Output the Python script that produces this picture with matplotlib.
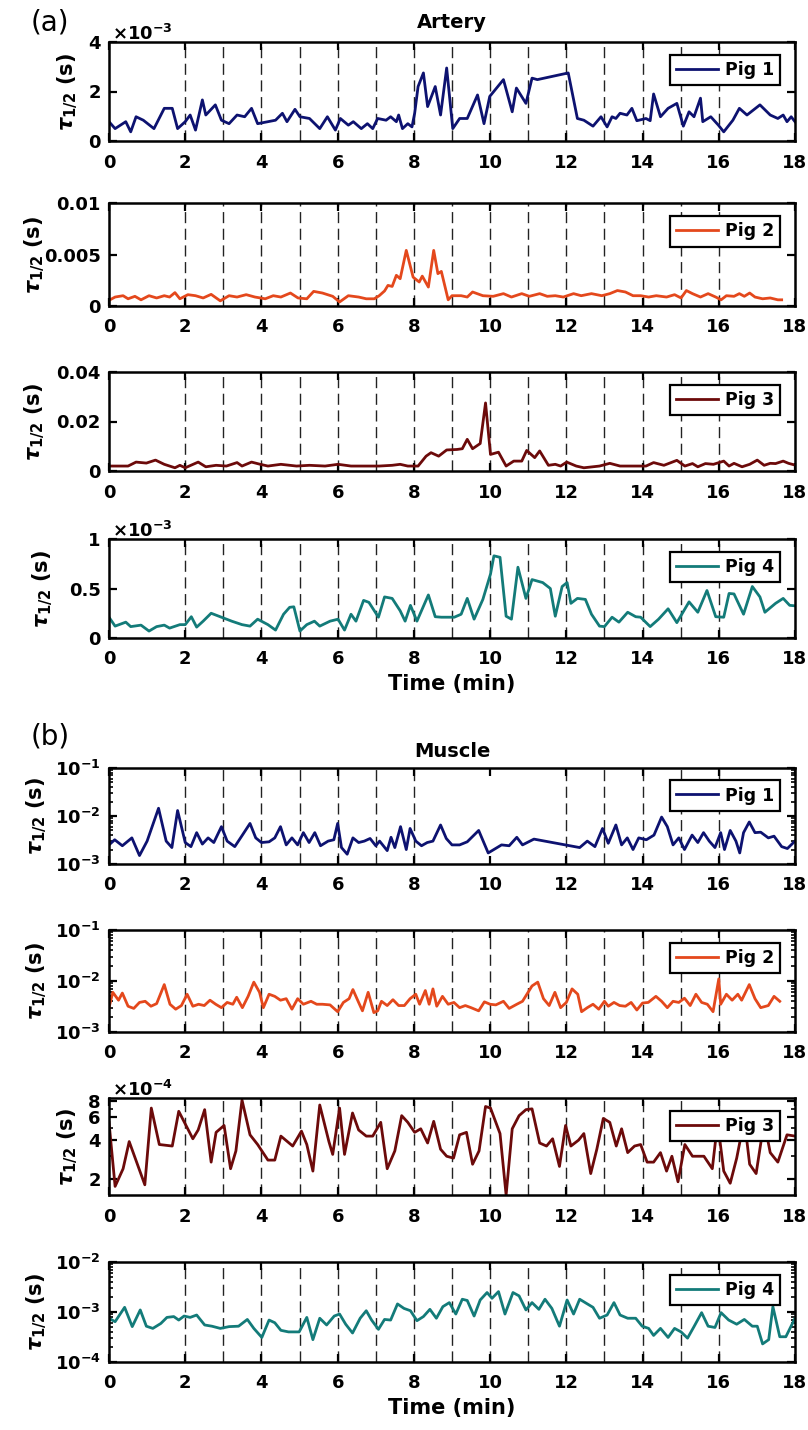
import numpy as np
import matplotlib
matplotlib.use("Agg")
import matplotlib.pyplot as plt
from matplotlib.ticker import LogLocator, NullFormatter

plt.rcParams['font.family'] = ['DejaVu Sans']
plt.rcParams['font.weight'] = 'bold'
plt.rcParams['mathtext.fontset'] = 'dejavusans'

# ---- Artery, Pig 1 ----
a1_t = [0, 0.16, 0.44, 0.57, 0.71, 0.9, 1.18, 1.45, 1.66, 1.8, 2.0, 2.13, 2.27, 2.45, 2.54, 2.79, 2.95,
        3.15, 3.36, 3.56, 3.74, 3.9, 4.17, 4.37, 4.55, 4.67, 4.88, 5.01, 5.26, 5.53, 5.73, 5.94, 6.07,
        6.28, 6.41, 6.62, 6.78, 6.92, 7.05, 7.27, 7.39, 7.54, 7.6, 7.7, 7.84, 7.95, 8.02, 8.11, 8.25,
        8.36, 8.56, 8.7, 8.86, 9.02, 9.2, 9.4, 9.67, 9.84, 9.99, 10.35, 10.58, 10.69, 10.94, 11.1, 11.24,
        12.05, 12.29, 12.46, 12.7, 12.91, 13.07, 13.2, 13.3, 13.41, 13.59, 13.72, 13.85, 14.09, 14.2,
        14.29, 14.47, 14.67, 14.9, 15.07, 15.22, 15.35, 15.52, 15.58, 15.79, 15.99, 16.13, 16.37, 16.54,
        16.74, 17.08, 17.35, 17.55, 17.69, 17.79, 17.9, 18.0]
a1_v = [0.78, 0.5, 0.78, 0.37, 0.98, 0.84, 0.5, 1.32, 1.32, 0.5, 0.78, 1.05, 0.44, 1.66, 1.05, 1.46, 0.84,
        0.7, 1.05, 0.98, 1.32, 0.7, 0.78, 0.84, 1.12, 0.78, 1.28, 0.98, 0.91, 0.5, 0.98, 0.44, 0.91,
        0.64, 0.78, 0.5, 0.7, 0.5, 0.91, 0.84, 0.98, 0.78, 1.05, 0.5, 0.7, 0.57, 1.12, 2.2, 2.75,
        1.39, 2.2, 1.05, 2.95, 0.5, 0.91, 0.91, 1.86, 0.7, 1.8, 2.48, 1.18, 2.14, 1.52, 2.54, 2.48,
        2.75, 0.91, 0.84, 0.6, 0.98, 0.57, 0.98, 0.91, 1.12, 1.05, 1.32, 0.82, 0.91, 0.82,
        1.9, 0.98, 1.32, 1.52, 0.6, 1.18, 0.98, 1.73, 0.78, 0.98, 0.64, 0.37, 0.84, 1.32,
        1.05, 1.46, 1.05, 0.91, 1.05, 0.78, 0.98, 0.78]  # x 1e-3 s

# ---- Artery, Pig 2 ----
a2_t = [0, 0.16, 0.37, 0.5, 0.68, 0.84, 1.05, 1.25, 1.45, 1.59, 1.73, 1.86, 2.07, 2.27, 2.47, 2.68, 2.92,
        3.15, 3.36, 3.6, 3.83, 4.1, 4.31, 4.51, 4.76, 4.96, 5.19, 5.37, 5.6, 5.87, 6.05, 6.28, 6.55,
        6.75, 6.96, 7.09, 7.23, 7.32, 7.43, 7.54, 7.64, 7.8, 7.98, 8.14, 8.22, 8.38, 8.52, 8.63, 8.72,
        8.9, 9.0, 9.24, 9.4, 9.54, 9.81, 10.08, 10.35, 10.56, 10.83, 11.03, 11.3, 11.5, 11.71, 11.92,
        12.19, 12.39, 12.66, 12.93, 13.14, 13.34, 13.55, 13.75, 13.95, 14.16, 14.36, 14.63, 14.84,
        15.01, 15.15, 15.31, 15.52, 15.72, 15.92, 16.06, 16.2, 16.4, 16.54, 16.67, 16.81, 16.95, 17.15,
        17.35, 17.55, 17.65]
a2_v = [0.55, 0.87, 1.0, 0.7, 0.94, 0.6, 1.0, 0.78, 1.0, 0.87, 1.3, 0.7, 1.1, 1.0, 0.78, 1.13, 0.5,
        1.0, 0.87, 1.1, 0.87, 0.7, 1.0, 0.87, 1.26, 0.78, 0.7, 1.42, 1.26, 0.94, 0.39, 1.0, 0.87,
        0.7, 0.7, 1.0, 1.46, 2.0, 1.9, 2.98, 2.65, 5.4, 2.8, 2.33, 2.9, 1.84, 5.4, 3.14, 3.36,
        0.6, 1.0, 1.0, 0.87, 1.36, 1.0, 0.94, 1.2, 0.87, 1.2, 0.94, 1.2, 0.94, 1.0, 0.87,
        1.2, 1.0, 1.2, 1.0, 1.2, 1.5, 1.36, 1.0, 1.0, 0.87, 1.0, 0.87, 1.1,
        0.78, 1.5, 1.2, 0.87, 1.2, 0.87, 0.6, 1.0, 0.94, 1.2, 0.94, 1.26, 0.87, 0.7,
        0.78, 0.6, 0.6]  # x 1e-3 s

# ---- Artery, Pig 3 ----
a3_t = [0, 0.5, 0.71, 0.98, 1.22, 1.45, 1.73, 1.86, 2.0, 2.34, 2.54, 2.81, 3.08, 3.36, 3.49, 3.74, 3.97,
        4.17, 4.51, 4.92, 5.26, 5.67, 6.01, 6.35, 6.68, 7.09, 7.43, 7.64, 7.84, 8.11, 8.32, 8.45, 8.65,
        8.86, 9.13, 9.27, 9.4, 9.54, 9.74, 9.88, 10.01, 10.22, 10.42, 10.62, 10.83, 10.96, 11.17, 11.3,
        11.53, 11.71, 11.85, 12.01, 12.26, 12.46, 12.87, 13.14, 13.41, 13.82, 14.09, 14.29, 14.56, 14.9,
        15.11, 15.31, 15.45, 15.65, 15.86, 16.13, 16.27, 16.4, 16.61, 16.81, 17.01, 17.19, 17.35, 17.49,
        17.69, 17.83, 18.0]
a3_v = [2.0, 2.0, 3.6, 3.2, 4.4, 2.7, 1.3, 2.3, 1.3, 3.6, 1.7, 2.3, 2.0, 3.4, 2.0, 3.6, 2.7,
        2.0, 2.7, 2.0, 2.3, 2.0, 2.7, 2.0, 2.0, 2.0, 2.3, 2.7, 2.0, 2.0, 6.0, 7.4, 6.0,
        8.5, 8.7, 9.0, 12.8, 9.0, 11.1, 27.5, 6.7, 7.6, 2.0, 4.0, 4.0, 8.3, 5.4, 8.1,
        2.3, 2.7, 2.0, 3.6, 2.0, 1.3, 2.0, 3.1, 2.0, 2.0, 2.0, 3.4, 2.3, 4.3,
        2.0, 3.0, 1.7, 3.0, 2.7, 4.0, 2.0, 3.1, 1.7, 2.7, 4.4, 2.3, 3.1, 3.0,
        4.0, 3.1, 2.4]  # x 1e-3 s

# ---- Artery, Pig 4 ----
a4_t = [0, 0.16, 0.44, 0.57, 0.84, 1.05, 1.25, 1.45, 1.59, 1.86, 2.0, 2.16, 2.3, 2.47, 2.68, 2.95, 3.22,
        3.49, 3.7, 3.9, 4.17, 4.37, 4.58, 4.74, 4.85, 5.01, 5.19, 5.39, 5.53, 5.8, 6.01, 6.18, 6.35,
        6.48, 6.68, 6.82, 7.07, 7.23, 7.43, 7.64, 7.77, 7.91, 8.08, 8.38, 8.56, 8.72, 9.06, 9.24, 9.4,
        9.58, 9.81, 10.01, 10.1, 10.26, 10.42, 10.56, 10.73, 10.94, 11.1, 11.38, 11.58, 11.71, 11.89,
        12.02, 12.12, 12.29, 12.5, 12.66, 12.87, 13.0, 13.2, 13.38, 13.61, 13.82, 13.95, 14.2, 14.42,
        14.67, 14.9, 15.22, 15.45, 15.69, 15.92, 16.13, 16.27, 16.4, 16.65, 16.88, 17.08, 17.21, 17.49,
        17.69, 17.86, 18.0]
a4_v = [0.21, 0.12, 0.16, 0.115, 0.13, 0.07, 0.115, 0.13, 0.1, 0.135, 0.135, 0.215, 0.11, 0.17, 0.25, 0.21,
        0.17, 0.135, 0.12, 0.19, 0.135, 0.08, 0.24, 0.31, 0.315, 0.07, 0.135, 0.17, 0.12, 0.17, 0.19, 0.08,
        0.24, 0.17, 0.38, 0.36, 0.21, 0.415, 0.4, 0.275, 0.17, 0.33, 0.17, 0.435, 0.215, 0.21, 0.21, 0.24,
        0.4, 0.19, 0.39, 0.645, 0.83, 0.815, 0.22, 0.19, 0.715, 0.4, 0.59, 0.56, 0.5, 0.22, 0.52,
        0.56, 0.35, 0.4, 0.39, 0.24, 0.12, 0.115, 0.21, 0.16, 0.26, 0.215, 0.21, 0.115, 0.19,
        0.295, 0.155, 0.365, 0.26, 0.48, 0.215, 0.21, 0.45, 0.445, 0.24, 0.52, 0.415, 0.26, 0.35,
        0.4, 0.33, 0.325]  # x 1e-3 s

# ---- Muscle, Pig 1 ----
b1_t = [0, 0.15, 0.35, 0.6, 0.8, 1.0, 1.3, 1.5, 1.65, 1.8, 2.0, 2.15, 2.3, 2.45, 2.6, 2.75, 2.95, 3.1,
        3.3, 3.5, 3.7, 3.85, 4.0, 4.2, 4.35, 4.5, 4.65, 4.8, 4.95, 5.1, 5.25, 5.4, 5.55, 5.75, 5.9, 6.0,
        6.1, 6.25, 6.4, 6.55, 6.7, 6.85, 7.0, 7.1, 7.3, 7.4, 7.5, 7.65, 7.8, 7.9, 8.05, 8.2, 8.35, 8.5,
        8.7, 8.85, 9.0, 9.2, 9.4, 9.7, 9.95, 10.3, 10.5, 10.7, 10.85, 11.15, 12.35, 12.55, 12.75, 12.95,
        13.1, 13.3, 13.45, 13.6, 13.75, 13.9, 14.1, 14.3, 14.5, 14.65, 14.8, 14.95, 15.1, 15.3, 15.45,
        15.6, 15.75, 15.9, 16.05, 16.15, 16.3, 16.45, 16.55, 16.65, 16.8, 16.95, 17.1, 17.3, 17.45,
        17.65, 17.8, 18.0]
b1_v = [2.5, 3.2, 2.4, 3.5, 1.5, 3.0, 14.5, 3.0, 2.2, 13.0, 2.8, 2.3, 4.5, 2.6, 3.5, 2.8, 6.0, 3.0,
        2.3, 4.0, 7.0, 3.5, 2.8, 2.9, 3.5, 6.0, 2.5, 3.5, 2.5, 4.5, 2.8, 4.5, 2.4, 3.0, 3.2, 7.0,
        2.2, 1.6, 3.5, 2.8, 3.0, 3.4, 2.4, 3.0, 1.9, 3.6, 2.2, 6.0, 2.0, 5.5, 3.0, 2.4, 2.8, 3.0,
        6.5, 3.4, 2.5, 2.5, 2.9, 5.0, 1.7, 2.5, 2.4, 3.6, 2.5, 3.3, 2.2, 3.0, 2.3, 5.5,
        2.7, 6.5, 2.5, 3.5, 2.0, 3.5, 3.2, 4.0, 9.5, 6.0, 2.5, 3.5, 2.0, 4.0, 2.8,
        4.5, 3.0, 2.2, 4.5, 2.0, 5.0, 3.0, 1.7, 4.5, 7.5, 4.5, 4.6, 3.5, 3.8,
        2.3, 2.1, 3.0]  # x 1e-3 s

# ---- Muscle, Pig 2 ----
b2_t = [0, 0.1, 0.25, 0.35, 0.5, 0.65, 0.8, 0.95, 1.1, 1.25, 1.45, 1.6, 1.75, 1.9, 2.05, 2.2, 2.35, 2.5,
        2.65, 2.8, 2.95, 3.1, 3.25, 3.35, 3.5, 3.65, 3.8, 3.95, 4.05, 4.2, 4.35, 4.5, 4.65, 4.8, 4.95,
        5.1, 5.3, 5.45, 5.6, 5.8, 6.0, 6.15, 6.3, 6.4, 6.55, 6.65, 6.8, 6.95, 7.05, 7.15, 7.3, 7.45,
        7.6, 7.75, 7.9, 8.05, 8.15, 8.3, 8.4, 8.5, 8.6, 8.75, 8.9, 9.05, 9.2, 9.35, 9.5, 9.7, 9.85,
        10.0, 10.15, 10.35, 10.5, 10.7, 10.85, 11.1, 11.25, 11.4, 11.55, 11.7, 11.85, 12.0, 12.15, 12.3,
        12.4, 12.55, 12.7, 12.85, 13.0, 13.1, 13.25, 13.4, 13.55, 13.7, 13.85, 14.0, 14.15, 14.35, 14.5,
        14.65, 14.8, 14.95, 15.1, 15.25, 15.4, 15.55, 15.7, 15.85, 16.0, 16.05, 16.2, 16.35, 16.5, 16.6,
        16.8, 16.95, 17.1, 17.3, 17.45, 17.6]
b2_v = [3.0, 6.0, 4.2, 5.8, 3.2, 2.9, 3.8, 4.0, 3.2, 3.6, 8.5, 3.5, 2.8, 3.3, 5.5, 3.2, 3.5, 3.3,
        4.2, 3.5, 3.0, 3.8, 3.5, 4.8, 3.0, 5.0, 9.5, 6.0, 3.0, 5.5, 5.0, 4.2, 4.5, 2.8, 4.5,
        3.5, 4.0, 3.5, 3.5, 3.4, 2.5, 3.8, 4.5, 6.8, 3.8, 2.6, 6.0, 2.4, 2.6, 4.0, 3.3, 4.3,
        3.3, 3.3, 4.5, 5.5, 3.5, 6.5, 3.5, 7.0, 3.2, 5.0, 3.5, 3.8, 3.0, 3.3, 3.0, 2.6, 3.9,
        3.5, 3.4, 4.0, 2.9, 3.5, 4.0, 8.0, 9.5, 4.5, 3.3, 6.0, 3.0, 3.8, 7.0, 5.5,
        2.5, 3.0, 3.5, 2.8, 4.0, 3.2, 3.8, 3.3, 3.2, 3.8, 2.7, 3.7, 3.8, 5.0, 4.0,
        3.0, 4.0, 3.8, 4.6, 3.3, 5.5, 3.8, 3.5, 2.5, 11.0, 3.5, 5.5, 4.2, 5.5, 4.2,
        8.5, 4.5, 3.0, 3.3, 5.0, 4.0]  # x 1e-3 s

# ---- Muscle, Pig 3 ----
b3_t = [0, 0.16, 0.37, 0.53, 0.94, 1.11, 1.32, 1.66, 1.83, 2.2, 2.34, 2.51, 2.68, 2.81, 3.02, 3.19, 3.33,
        3.49, 3.7, 3.9, 4.17, 4.35, 4.51, 4.82, 5.05, 5.19, 5.35, 5.53, 5.77, 5.87, 6.05, 6.18, 6.39,
        6.55, 6.75, 6.92, 7.13, 7.3, 7.5, 7.68, 7.84, 8.02, 8.18, 8.36, 8.52, 8.7, 8.86, 9.04, 9.2,
        9.38, 9.54, 9.71, 9.88, 10.01, 10.26, 10.42, 10.58, 10.76, 10.94, 11.1, 11.3, 11.48, 11.64,
        11.82, 11.98, 12.12, 12.32, 12.46, 12.64, 12.8, 12.97, 13.14, 13.31, 13.45, 13.61, 13.79, 13.95,
        14.12, 14.29, 14.47, 14.63, 14.77, 14.93, 15.11, 15.31, 15.61, 15.83, 15.97, 16.13, 16.3, 16.47,
        16.67, 16.81, 16.98, 17.19, 17.35, 17.55, 17.79, 18.0]
b3_v = [5.5, 1.75, 2.4, 3.9, 1.8, 7.1, 3.7, 3.6, 6.7, 4.1, 4.8, 6.9, 2.7, 4.6, 5.2, 2.4, 3.3,
        8.2, 4.4, 3.7, 2.8, 2.8, 4.3, 3.6, 4.7, 3.7, 2.3, 7.5, 3.9, 3.1, 7.1, 3.1, 6.5,
        4.8, 4.3, 4.3, 5.5, 2.4, 3.3, 6.2, 5.5, 4.6, 4.9, 3.8, 5.6, 3.4, 3.0, 2.9, 4.4,
        4.6, 2.6, 3.3, 7.3, 7.1, 4.5, 1.5, 4.9, 6.2, 6.9, 7.0, 3.8, 3.6, 4.1,
        2.5, 5.2, 3.6, 4.0, 4.5, 2.2, 3.4, 5.9, 5.5, 3.6, 4.9, 3.2, 3.6, 3.7,
        2.7, 2.7, 3.2, 2.3, 3.0, 1.9, 3.7, 3.0, 3.0, 2.4, 5.5, 2.3, 1.85, 2.9,
        5.8, 2.6, 2.2, 5.6, 3.2, 2.7, 4.4, 4.3]  # x 1e-4 s

# ---- Muscle, Pig 4 ----
b4_t = [0, 0.16, 0.41, 0.61, 0.82, 0.98, 1.15, 1.36, 1.52, 1.7, 1.83, 1.97, 2.13, 2.3, 2.51, 2.7, 2.92,
        3.15, 3.4, 3.63, 3.8, 4.01, 4.2, 4.35, 4.51, 4.71, 4.99, 5.19, 5.35, 5.53, 5.71, 5.91, 6.05,
        6.21, 6.39, 6.59, 6.75, 6.89, 7.07, 7.23, 7.39, 7.57, 7.74, 7.91, 8.08, 8.25, 8.42, 8.59, 8.76,
        8.93, 9.1, 9.27, 9.4, 9.58, 9.74, 9.92, 10.05, 10.22, 10.39, 10.6, 10.76, 10.94, 11.1, 11.28,
        11.44, 11.62, 11.82, 12.02, 12.19, 12.35, 12.52, 12.7, 12.87, 13.07, 13.25, 13.41, 13.61, 13.82,
        13.99, 14.16, 14.29, 14.47, 14.67, 14.84, 15.01, 15.18, 15.35, 15.55, 15.72, 15.9, 16.06, 16.26,
        16.47, 16.67, 16.88, 17.01, 17.15, 17.31, 17.42, 17.6, 17.76, 18.0]
b4_v = [0.75, 0.64, 1.24, 0.51, 1.1, 0.52, 0.47, 0.59, 0.78, 0.81, 0.69, 0.83, 0.78, 0.87, 0.55, 0.52,
        0.47, 0.51, 0.52, 0.71, 0.47, 0.31, 0.69, 0.61, 0.43, 0.40, 0.40, 0.78, 0.28, 0.75, 0.55, 0.83,
        0.91, 0.57, 0.38, 0.75, 1.06, 0.69, 0.45, 0.71, 0.69, 1.45, 1.18, 1.06, 0.67, 0.81, 1.13, 0.75,
        1.28, 1.54, 0.91, 1.8, 1.7, 0.83, 1.74, 2.45, 1.88, 2.56, 0.91, 2.45, 2.1, 1.1, 1.54, 1.13,
        1.8, 1.18, 0.52, 1.74, 0.91, 1.8, 1.5, 1.24, 0.75, 0.87, 1.54, 0.87, 0.75, 0.75,
        0.52, 0.47, 0.34, 0.47, 0.31, 0.47, 0.40, 0.30, 0.51, 0.97, 0.52, 0.49, 0.97, 0.69,
        0.57, 0.71, 0.52, 0.52, 0.23, 0.28, 1.28, 0.32, 0.32, 0.75]  # x 1e-3 s

pig_names = ['Pig 1', 'Pig 2', 'Pig 3', 'Pig 4']
pig_colors = ['#0d1270', '#e4481c', '#6c0a0a', '#137b79']
x_ticks = [0, 2, 4, 6, 8, 10, 12, 14, 16, 18]
all_lines = list(range(2, 17))
b1_lines = [2, 3, 4, 5, 6, 7, 8, 12, 13, 14, 15, 16]

W, H = 808, 1430
fig = plt.figure(figsize=(W / 100, H / 100), dpi=100)


def make_ax(top, bottom):
    return fig.add_axes([109 / W, 1 - bottom / H, 686 / W, (bottom - top) / H])


def style_ax(ax, name, lab_right, vlines):
    ax.set_xlim(0, 18)
    ax.set_xticks(x_ticks)
    for v in vlines:
        ax.axvline(v, color='#222222', lw=1.0, ls=(0, (8, 4)), zorder=1)
    ax.tick_params(direction='in', top=True, right=True, labelsize=13, width=1.6, length=6, pad=6)
    ax.tick_params(which='minor', direction='in', top=False, right=True, width=1.2, length=3)
    ax.tick_params(axis='x', pad=9)
    for s in ax.spines.values():
        s.set_linewidth(1.8)
    ax.set_ylabel(r'$\tau_{1/2}$ (s)', fontsize=15, fontweight='bold')
    ax.yaxis.set_label_coords((lab_right - 109) / 686, 0.5)
    leg = ax.legend([name], loc='upper right', bbox_to_anchor=(0.978, 0.87), borderaxespad=0,
                    fontsize=12.5, frameon=True, fancybox=False, edgecolor='black',
                    handlelength=2.4, handletextpad=0.4, borderpad=0.35)
    leg.get_frame().set_linewidth(1.6)
    leg.get_frame().set_alpha(1)


def log_ax(ax, lo, hi):
    ax.set_yscale('log')
    ax.set_ylim(lo, hi)
    ax.yaxis.set_minor_locator(LogLocator(base=10, subs=np.arange(2, 10)))
    ax.yaxis.set_minor_formatter(NullFormatter())


def exp_label(ax, txt):
    ax.text(0.005, 1.02, txt, transform=ax.transAxes, fontsize=13, fontweight='normal')


# --- (a) Artery ---
ax = make_ax(42, 141)
ax.plot(a1_t, np.array(a1_v) * 1e-3, color=pig_colors[0], lw=2.0)
ax.set_ylim(0, 4e-3)
ax.set_yticks([0, 2e-3, 4e-3], ['0', '2', '4'])
exp_label(ax, r'$\times10^{-3}$')
ax.set_title('Artery', fontsize=14, fontweight='bold', pad=10)
style_ax(ax, pig_names[0], 80, all_lines)

ax = make_ax(203, 306)
ax.plot(a2_t, np.array(a2_v) * 1e-3, color=pig_colors[1], lw=2.0)
ax.set_ylim(0, 0.01)
ax.set_yticks([0, 0.005, 0.01], ['0', '0.005', '0.01'])
style_ax(ax, pig_names[1], 47, all_lines)

ax = make_ax(372, 471)
ax.plot(a3_t, np.array(a3_v) * 1e-3, color=pig_colors[2], lw=2.0)
ax.set_ylim(0, 0.04)
ax.set_yticks([0, 0.02, 0.04], ['0', '0.02', '0.04'])
style_ax(ax, pig_names[2], 47, all_lines)

ax = make_ax(539, 638)
ax.plot(a4_t, np.array(a4_v) * 1e-3, color=pig_colors[3], lw=2.0)
ax.set_ylim(0, 1e-3)
ax.set_yticks([0, 0.5e-3, 1e-3], ['0', '0.5', '1'])
exp_label(ax, r'$\times10^{-3}$')
style_ax(ax, pig_names[3], 55, all_lines)
ax.set_xlabel('Time (min)', fontsize=15, fontweight='bold', labelpad=4)

# --- (b) Muscle ---
dec_labels = {1e-4: r'$\mathbf{10^{-4}}$', 1e-3: r'$\mathbf{10^{-3}}$',
              1e-2: r'$\mathbf{10^{-2}}$', 1e-1: r'$\mathbf{10^{-1}}$'}

ax = make_ax(768, 864)
ax.plot(b1_t, np.array(b1_v) * 1e-3, color=pig_colors[0], lw=2.0)
log_ax(ax, 1e-3, 1e-1)
ax.set_yticks([1e-3, 1e-2, 1e-1], [dec_labels[v] for v in (1e-3, 1e-2, 1e-1)])
ax.set_title('Muscle', fontsize=14, fontweight='bold', pad=8)
style_ax(ax, pig_names[0], 49, b1_lines)

ax = make_ax(930, 1032)
ax.plot(b2_t, np.array(b2_v) * 1e-3, color=pig_colors[1], lw=2.0)
log_ax(ax, 1e-3, 1e-1)
ax.set_yticks([1e-3, 1e-2, 1e-1], [dec_labels[v] for v in (1e-3, 1e-2, 1e-1)])
style_ax(ax, pig_names[1], 49, all_lines)

ax = make_ax(1098, 1195)
ax.plot(b3_t, np.array(b3_v) * 1e-4, color=pig_colors[2], lw=2.0)
log_ax(ax, 1.5e-4, 8.5e-4)
ax.set_yticks([2e-4, 4e-4, 6e-4, 8e-4], ['2', '4', '6', '8'])
exp_label(ax, r'$\times10^{-4}$')
style_ax(ax, pig_names[2], 80, all_lines)

ax = make_ax(1262, 1362)
ax.plot(b4_t, np.array(b4_v) * 1e-3, color=pig_colors[3], lw=2.0)
log_ax(ax, 1e-4, 1e-2)
ax.set_yticks([1e-4, 1e-3, 1e-2], [dec_labels[v] for v in (1e-4, 1e-3, 1e-2)])
style_ax(ax, pig_names[3], 49, all_lines)
ax.set_xlabel('Time (min)', fontsize=15, fontweight='bold', labelpad=4)

fig.text(50 / W, 1 - 22 / H, '(a)', fontsize=20, fontweight='normal', ha='center', va='center')
fig.text(50 / W, 1 - 737 / H, '(b)', fontsize=20, fontweight='normal', ha='center', va='center')

fig.savefig('out.png', dpi=100)
